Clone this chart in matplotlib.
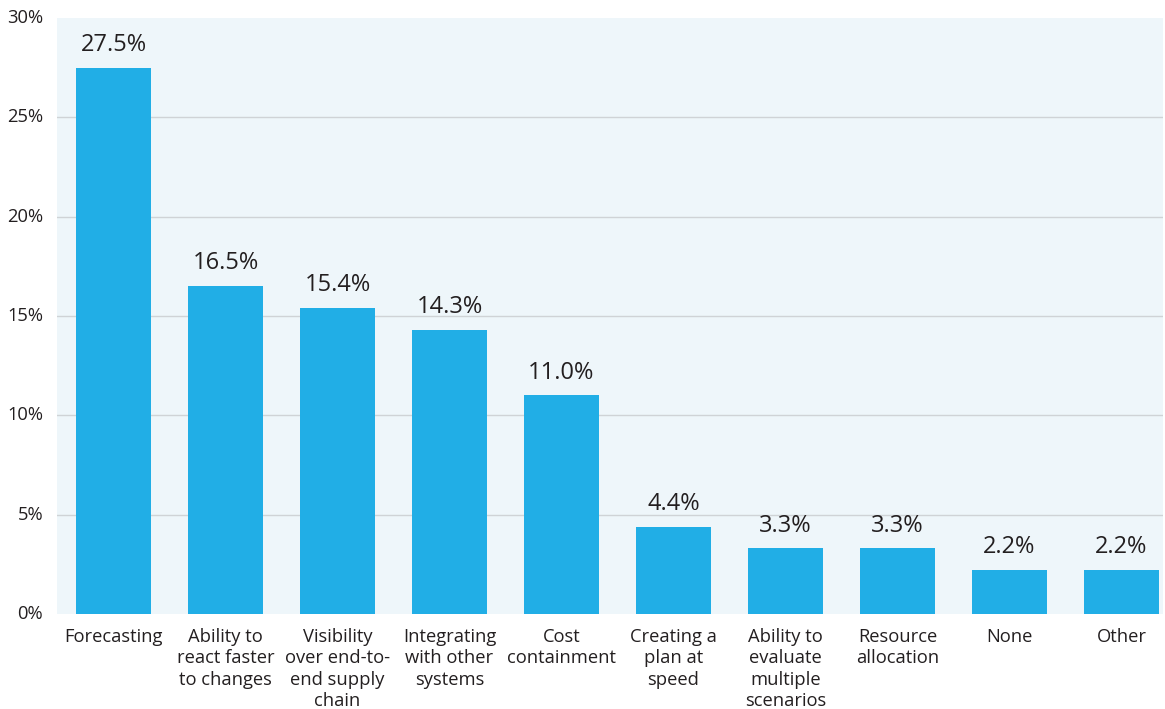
import matplotlib
matplotlib.use("Agg")
import matplotlib.pyplot as plt
from matplotlib.ticker import FuncFormatter

categories = ["Forecasting", "Ability to\nreact faster\nto changes", "Visibility\nover end-to-\nend supply\nchain",
              "Integrating\nwith other\nsystems", "Cost\ncontainment", "Creating a\nplan at\nspeed",
              "Ability to\nevaluate\nmultiple\nscenarios", "Resource\nallocation", "None", "Other"]
values = [27.5, 16.5, 15.4, 14.3, 11.0, 4.4, 3.3, 3.3, 2.2, 2.2]
labels = ["27.5%", "16.5%", "15.4%", "14.3%", "11.0%", "4.4%", "3.3%", "3.3%", "2.2%", "2.2%"]
yticks = [0, 5, 10, 15, 20, 25, 30]

plt.rcParams['font.family'] = ['Open Sans', 'DejaVu Sans']
text_color = "#231f20"

fig = plt.figure(figsize=(11.65, 7.09), dpi=100)
ax = fig.add_axes([57/1165, (709-614)/709, (1163-57)/1165, (614-18)/709])
ax.set_facecolor("#eef6fa")
x = list(range(len(categories)))
ax.bar(x, values, width=0.67, color="#21aee6", zorder=3)
for xi, v, lab in zip(x, values, labels):
    ax.text(xi, v + 0.55, lab, ha="center", va="bottom", fontsize=17, color=text_color)

ax.set_ylim(0, 30)
ax.set_xlim(-0.504, 9.37)
ax.set_yticks(yticks)
ax.yaxis.set_major_formatter(FuncFormatter(lambda v, p: f"{int(v)}%"))
for yv in yticks[1:-1]:
    ax.axhline(yv, color="#cfd3d6", linewidth=1, zorder=1)
for s in ax.spines.values():
    s.set_visible(False)
ax.tick_params(axis="both", length=0, labelsize=13.2, colors=text_color)
ax.tick_params(axis="y", pad=10)
ax.tick_params(axis="x", pad=10)
ax.set_xticks(x)
ax.set_xticklabels(categories, linespacing=1.25)
for t in ax.get_yticklabels():
    t.set_verticalalignment("center")

fig.savefig("out.png", dpi=100)
